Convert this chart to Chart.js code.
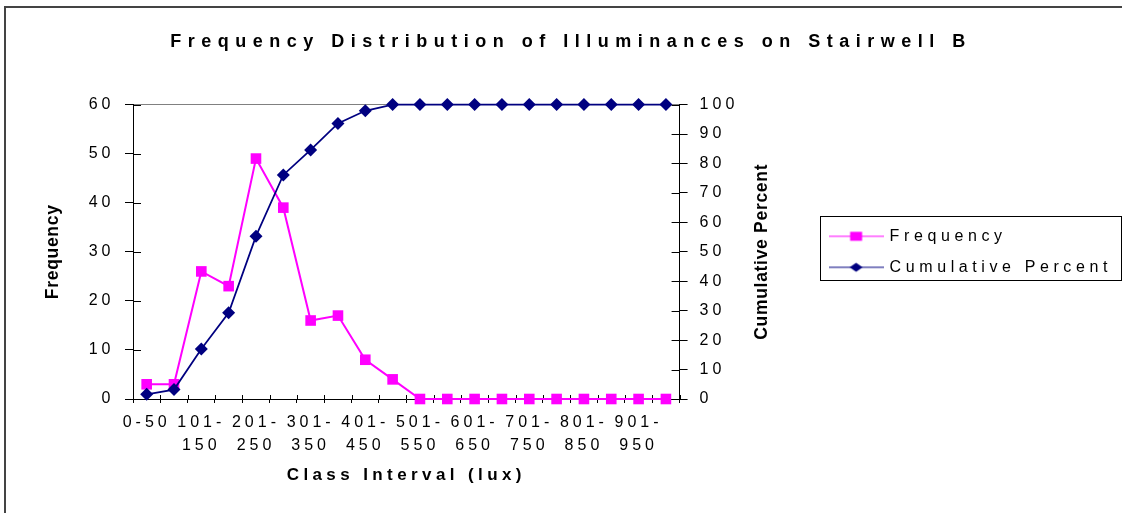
<!DOCTYPE html>
<html>
<head>
<meta charset="utf-8">
<script src="https://cdn.jsdelivr.net/npm/chart.js@4.4.1/dist/chart.umd.min.js"></script>
<style>
  html, body { margin: 0; padding: 0; background: #fff; }
  #wrap { position: relative; width: 1122px; height: 513px; }
</style>
</head>
<body>
<div id="wrap"><canvas id="chart"></canvas></div>
<script>
const categories = ['0-50', '51-100', '101-150', '151-200', '201-250', '251-300', '301-350',
  '351-400', '401-450', '451-500', '501-550', '551-600', '601-650', '651-700', '701-750',
  '751-800', '801-850', '851-900', '901-950', '951-1000'];
const frequency = [3, 3, 26, 23, 49, 39, 16, 17, 8, 4, 0, 0, 0, 0, 0, 0, 0, 0, 0, 0];
const cumulativePercent = [1.6, 3.2, 17.0, 29.3, 55.3, 76.1, 84.6, 93.6, 97.9, 100,
  100, 100, 100, 100, 100, 100, 100, 100, 100, 100];
const freqTicks = [0, 10, 20, 30, 40, 50, 60];
const cumTicks = [0, 10, 20, 30, 40, 50, 60, 70, 80, 90, 100];

const chartTitle = 'Frequency Distribution of Illuminances on Stairwell B';
const xTitle = 'Class Interval (lux)';
const yTitle = 'Frequency';
const y1Title = 'Cumulative Percent';

const FAMILY = "'Liberation Sans', Arial, sans-serif";
const LEGEND_FAMILY = "Arial, 'Liberation Sans', sans-serif";

// the original spreads its letters out; pick a letterSpacing from the font string
const spacing = [
  ['bold 18px', '6.5px'],
  ['bold 17.5px', '0.7px'],
  ['bold 17px', '4.4px'],
  ['16px Arial', '4.6px'],
  ['16px', '4px']
];

const canvas = document.getElementById('chart');
const ctx = canvas.getContext('2d');
const fontProp = Object.getOwnPropertyDescriptor(CanvasRenderingContext2D.prototype, 'font');
Object.defineProperty(ctx, 'font', {
  configurable: true,
  get() { return fontProp.get.call(this); },
  set(v) {
    fontProp.set.call(this, v);
    const hit = spacing.find(s => String(v).includes(s[0]));
    this.letterSpacing = hit ? hit[1] : '0px';
  }
});

function legendIcon(color, shape) {
  const c = document.createElement('canvas');
  c.width = 55;
  c.height = 14;
  const g = c.getContext('2d');
  g.strokeStyle = color;
  g.fillStyle = color;
  g.lineWidth = 1.2;
  g.beginPath();
  g.moveTo(0, 7);
  g.lineTo(55, 7);
  g.stroke();
  g.beginPath();
  if (shape === 'rect') {
    g.rect(21.5, 2.5, 12, 9);
  } else {
    g.moveTo(27.5, 2.5);
    g.lineTo(34, 7);
    g.lineTo(27.5, 11.5);
    g.lineTo(21, 7);
    g.closePath();
  }
  g.fill();
  return c;
}
const icons = [legendIcon('#FF00FF', 'rect'), legendIcon('#000080', 'diamond')];

function splitLabel(label) {
  if (label.length <= 4) return label;
  const parts = label.split('-');
  return [parts[0] + '-', parts[1]];
}

const frame = {
  id: 'frame',
  beforeDraw(chart) {
    const c = chart.ctx;
    c.save();
    c.fillStyle = '#fff';
    c.fillRect(0, 0, chart.width, chart.height);
    c.strokeStyle = '#444';
    c.lineWidth = 2;
    c.beginPath();
    c.moveTo(5, chart.height);
    c.lineTo(5, 7);
    c.lineTo(chart.width, 7);
    c.stroke();
    c.restore();
  }
};

// Excel's tick marks cross the axis; Chart.js only draws the outer half
const innerTicks = {
  id: 'innerTicks',
  beforeDatasetsDraw(chart) {
    const { x, y, y1 } = chart.scales;
    const c = chart.ctx;
    c.save();
    c.strokeStyle = '#000';
    c.lineWidth = 1;
    c.beginPath();
    for (let i = 0; i <= categories.length; i++) {
      const px = Math.round(x.getPixelForValue(i - 0.5)) + 0.5;
      c.moveTo(px, x.top);
      c.lineTo(px, x.top - 4);
    }
    y.ticks.forEach(t => {
      const py = Math.round(y.getPixelForValue(t.value)) + 0.5;
      c.moveTo(y.right, py);
      c.lineTo(y.right + 8, py);
    });
    y1.ticks.forEach(t => {
      const py = Math.round(y1.getPixelForValue(t.value)) + 0.5;
      c.moveTo(y1.left, py);
      c.lineTo(y1.left - 8, py);
    });
    c.stroke();
    c.restore();
  }
};

const legendBox = {
  id: 'legendBox',
  afterDraw(chart) {
    const boxes = chart.legend && chart.legend.legendHitBoxes;
    if (!boxes || !boxes.length) return;
    const left = Math.min(...boxes.map(b => b.left)) - 11;
    const right = Math.max(...boxes.map(b => b.left + b.width)) + 9;
    const top = boxes[0].top - 12;
    const last = boxes[boxes.length - 1];
    const bottom = last.top + last.height + 5;
    const c = chart.ctx;
    c.save();
    c.strokeStyle = '#000';
    c.lineWidth = 1;
    c.strokeRect(Math.round(left) + 0.5, Math.round(top) + 0.5,
      Math.round(right - left), Math.round(bottom - top));
    c.restore();
  }
};

// right axis title reads bottom-to-top in the original
const rightTitle = {
  id: 'rightTitle',
  afterDraw(chart) {
    const s = chart.scales.y1;
    const c = chart.ctx;
    c.save();
    c.translate(s.left + 83, (s.top + s.bottom) / 2);
    c.rotate(-Math.PI / 2);
    c.font = 'bold 17.5px ' + FAMILY;
    c.fillStyle = '#000';
    c.textAlign = 'center';
    c.textBaseline = 'middle';
    c.fillText(y1Title, 0, 0);
    c.restore();
  }
};

new Chart(ctx, {
  type: 'line',
  data: {
    labels: categories,
    datasets: [{
      label: 'Frequency',
      data: frequency,
      yAxisID: 'y',
      borderColor: '#FF00FF',
      backgroundColor: '#FF00FF',
      borderWidth: 2,
      pointStyle: 'rect',
      pointRadius: 7.5,
      pointBorderWidth: 0,
      tension: 0,
      clip: false,
      order: 2
    }, {
      label: 'Cumulative Percent',
      data: cumulativePercent,
      yAxisID: 'y1',
      borderColor: '#000080',
      backgroundColor: '#000080',
      borderWidth: 1.75,
      pointStyle: 'rectRot',
      pointRadius: 6.5,
      pointBorderWidth: 0,
      tension: 0,
      clip: false,
      order: 1
    }]
  },
  options: {
    responsive: true,
    maintainAspectRatio: false,
    animation: false,
    events: [],
    layout: { padding: { left: 20 } },
    plugins: {
      title: {
        display: true,
        text: chartTitle,
        color: '#000',
        font: { family: FAMILY, size: 18, weight: 'bold', lineHeight: 1.2 },
        padding: { top: 31, bottom: 52 }
      },
      legend: {
        position: 'right',
        fullSize: false,
        align: 'center',
        maxWidth: 400,
        labels: {
          usePointStyle: true,
          pointStyleWidth: 51,
          padding: 15,
          color: '#000',
          font: { family: LEGEND_FAMILY, size: 16 },
          generateLabels: chart => chart.data.datasets.map((ds, i) => ({
            text: ds.label,
            pointStyle: icons[i],
            fillStyle: ds.backgroundColor,
            strokeStyle: ds.borderColor,
            lineWidth: 0,
            fontColor: '#000',
            hidden: false,
            datasetIndex: i
          }))
        }
      },
      tooltip: { enabled: false }
    },
    scales: {
      x: {
        offset: true,
        grid: { offset: true, drawOnChartArea: false, tickLength: 4, tickColor: '#000' },
        border: { color: '#000', width: 1 },
        ticks: {
          autoSkip: false,
          maxRotation: 0,
          minRotation: 0,
          padding: 8.5,
          color: '#000',
          font: { family: FAMILY, size: 16, lineHeight: 1.44 },
          callback: (v, i) => (i % 2 ? '' : splitLabel(categories[i]))
        },
        title: {
          display: true,
          text: xTitle,
          color: '#000',
          font: { family: FAMILY, size: 17, weight: 'bold', lineHeight: 1.2 },
          padding: { top: 0, bottom: 27 }
        },
        afterFit: s => { s.height = 114; }
      },
      y: {
        position: 'left',
        min: freqTicks[0],
        max: freqTicks[freqTicks.length - 1],
        ticks: {
          stepSize: freqTicks[1] - freqTicks[0],
          padding: 10.5,
          color: '#000',
          font: { family: FAMILY, size: 16 }
        },
        grid: {
          color: c => (c.tick && c.tick.value === freqTicks[freqTicks.length - 1] ? '#808080' : 'rgba(0,0,0,0)'),
          tickColor: '#000',
          tickLength: 8
        },
        border: { color: '#000', width: 1 },
        title: {
          display: true,
          text: yTitle,
          color: '#000',
          font: { family: FAMILY, size: 17.5, weight: 'bold', lineHeight: 1.2 },
          padding: { top: 22.5, bottom: 0 }
        },
        afterFit: s => { s.width = 113; }
      },
      y1: {
        position: 'right',
        min: cumTicks[0],
        max: cumTicks[cumTicks.length - 1],
        ticks: {
          stepSize: cumTicks[1] - cumTicks[0],
          padding: 12,
          color: '#000',
          font: { family: FAMILY, size: 16 }
        },
        grid: { drawOnChartArea: false, tickColor: '#000', tickLength: 8 },
        border: { color: '#000', width: 1 },
        afterFit: s => { s.width = 136; }
      }
    }
  },
  plugins: [frame, innerTicks, legendBox, rightTitle]
});
</script>
</body>
</html>
